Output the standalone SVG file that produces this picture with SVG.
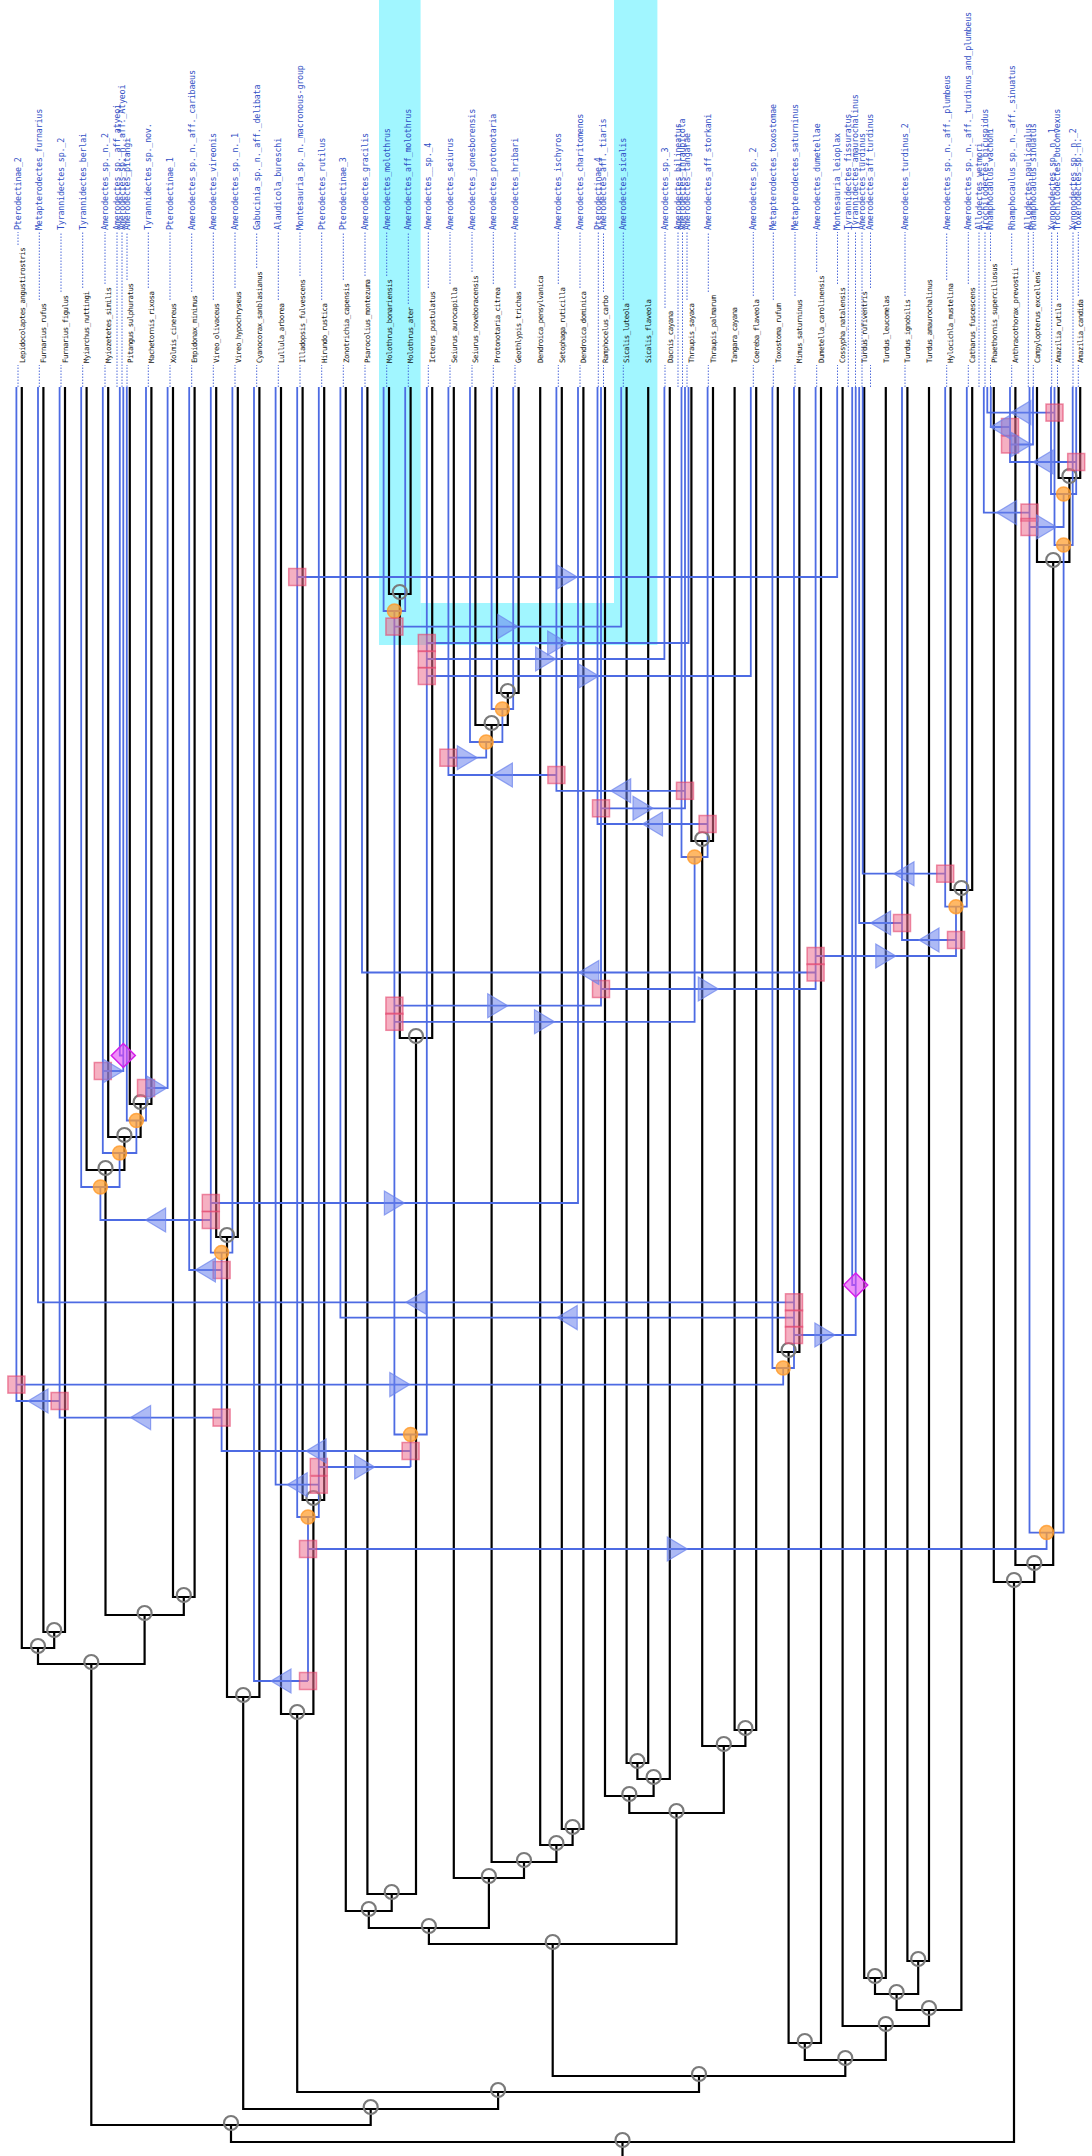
<svg xmlns="http://www.w3.org/2000/svg" xmlns:xlink="http://www.w3.org/1999/xlink" width="1092" height="2156" viewBox="0 0 1092 2156">
<style>
.hl{font-family:"DejaVu Sans Mono","Liberation Mono",monospace;font-size:7.4px;letter-spacing:-0.48px;fill:#111}
.pl{font-family:"DejaVu Sans Mono","Liberation Mono",monospace;font-size:8.4px;letter-spacing:-0.2px;fill:#2f4ec4}
.ld{fill:none;stroke:#3d5bd6;stroke-width:0.9;stroke-dasharray:1.5 1.5}
.h{fill:none;stroke:#000;stroke-width:2.2}
.p{fill:none;stroke:#4d6be3;stroke-width:1.8}
.hc{fill:none;stroke:#7a7a7a;stroke-width:2.2}
.co{fill:#ffa033;fill-opacity:.75;stroke:#ff9a2a;stroke-opacity:.8;stroke-width:1.5}
.sq{fill:#ec6f8f;fill-opacity:.55;stroke:#e2456c;stroke-opacity:.6;stroke-width:1.5}
.tri{fill:#6a82ec;fill-opacity:.55;stroke:#6a82ec;stroke-opacity:.7;stroke-width:1.2}
.dm{fill:#e446f5;fill-opacity:.6;stroke:#d41ee8;stroke-width:1.5}
.cy{fill:#00e6ff;fill-opacity:.37}
</style>
<defs>
<rect id="sq" x="-8.5" y="-8.5" width="17" height="17"/>
<circle id="co" r="7"/>
<circle id="hc" r="7"/>
<path id="tr" d="M-10,-12L10,0L-10,12Z"/>
<path id="tl" d="M10,-12L-10,0L10,12Z"/>
<path id="dm" d="M0,-12L12,0L0,12L-12,0Z"/>
</defs>
<rect width="1092" height="2156" fill="#fff"/>
<g id="highlight">
<rect class="cy" x="379" y="0" width="41.6" height="645"/>
<rect class="cy" x="614" y="0" width="43.4" height="645"/>
<rect class="cy" x="420.6" y="603" width="193.4" height="42"/>
</g>
<g id="labels">
<g id="host-Lepidocolaptes_angustirostris"><text class="hl" transform="translate(24.6,363) rotate(-90)">Lepidocolaptes_angustirostris</text></g>
<g id="para-Pterodectinae_2"><path class="ld" d="M18,387V365M18,245V232"/><text class="pl" transform="translate(20.9,230) rotate(-90)">Pterodectinae_2</text></g>
<g id="host-Furnarius_rufus"><text class="hl" transform="translate(46.2,363) rotate(-90)">Furnarius_rufus</text></g>
<g id="para-Metapterodectes_furnarius"><path class="ld" d="M39.3,387V365M39.3,300V232"/><text class="pl" transform="translate(42.2,230) rotate(-90)">Metapterodectes_furnarius</text></g>
<g id="host-Furnarius_figulus"><text class="hl" transform="translate(67.8,363) rotate(-90)">Furnarius_figulus</text></g>
<g id="para-Tyrannidectes_sp._2"><path class="ld" d="M61,387V365M61,292V232"/><text class="pl" transform="translate(63.9,230) rotate(-90)">Tyrannidectes_sp._2</text></g>
<g id="host-Myiarchus_nuttingi"><text class="hl" transform="translate(89.4,363) rotate(-90)">Myiarchus_nuttingi</text></g>
<g id="para-Tyrannidectes_berlai"><path class="ld" d="M82.7,387V365M82.7,288V232"/><text class="pl" transform="translate(85.6,230) rotate(-90)">Tyrannidectes_berlai</text></g>
<g id="host-Myiozetetes_similis"><text class="hl" transform="translate(111,363) rotate(-90)">Myiozetetes_similis</text></g>
<g id="para-Amerodectes_sp._n._2"><path class="ld" d="M105,387V365M105,284V232"/><text class="pl" transform="translate(107.9,230) rotate(-90)">Amerodectes_sp._n._2</text></g>
<g id="host-Pitangus_sulphuratus"><text class="hl" transform="translate(132.6,363) rotate(-90)">Pitangus_sulphuratus</text></g>
<g id="para-Amerodectes_sp._aff_atyeoi"><path class="ld" d="M117,387V232"/><text class="pl" transform="translate(119.9,230) rotate(-90)">Amerodectes_sp._aff_atyeoi</text></g>
<g id="para-Amerodectes_sp._n._aff._Atyeoi"><path class="ld" d="M122,387V232"/><text class="pl" transform="translate(124.9,230) rotate(-90)">Amerodectes_sp._n._aff._Atyeoi</text></g>
<g id="para-Amerodectes_pitangi"><path class="ld" d="M127,387V365M127,280V232"/><text class="pl" transform="translate(129.9,230) rotate(-90)">Amerodectes_pitangi</text></g>
<g id="host-Machetornis_rixosa"><text class="hl" transform="translate(154.2,363) rotate(-90)">Machetornis_rixosa</text></g>
<g id="para-Tyrannidectes_sp._nov."><path class="ld" d="M148.3,387V365M148.3,288V232"/><text class="pl" transform="translate(151.2,230) rotate(-90)">Tyrannidectes_sp._nov.</text></g>
<g id="host-Xolmis_cinereus"><text class="hl" transform="translate(175.8,363) rotate(-90)">Xolmis_cinereus</text></g>
<g id="para-Pterodectinae_1"><path class="ld" d="M170,387V365M170,300V232"/><text class="pl" transform="translate(172.9,230) rotate(-90)">Pterodectinae_1</text></g>
<g id="host-Empidonax_minimus"><text class="hl" transform="translate(197.4,363) rotate(-90)">Empidonax_minimus</text></g>
<g id="para-Amerodectes_sp._n._aff._caribaeus"><path class="ld" d="M191.7,387V365M191.7,292V232"/><text class="pl" transform="translate(194.6,230) rotate(-90)">Amerodectes_sp._n._aff._caribaeus</text></g>
<g id="host-Vireo_olivaceus"><text class="hl" transform="translate(219,363) rotate(-90)">Vireo_olivaceus</text></g>
<g id="para-Amerodectes_vireonis"><path class="ld" d="M213.3,387V365M213.3,300V232"/><text class="pl" transform="translate(216.2,230) rotate(-90)">Amerodectes_vireonis</text></g>
<g id="host-Vireo_hypochryseus"><text class="hl" transform="translate(240.6,363) rotate(-90)">Vireo_hypochryseus</text></g>
<g id="para-Amerodectes_sp._n._1"><path class="ld" d="M235,387V365M235,288V232"/><text class="pl" transform="translate(237.9,230) rotate(-90)">Amerodectes_sp._n._1</text></g>
<g id="host-Cyanocorax_sanblasianus"><text class="hl" transform="translate(262.2,363) rotate(-90)">Cyanocorax_sanblasianus</text></g>
<g id="para-Gabucinia_sp._n._aff._delibata"><path class="ld" d="M256.7,387V365M256.7,268V232"/><text class="pl" transform="translate(259.6,230) rotate(-90)">Gabucinia_sp._n._aff._delibata</text></g>
<g id="host-Lullula_arborea"><text class="hl" transform="translate(283.8,363) rotate(-90)">Lullula_arborea</text></g>
<g id="para-Alaudicola_bureschi"><path class="ld" d="M278.3,387V365M278.3,300V232"/><text class="pl" transform="translate(281.2,230) rotate(-90)">Alaudicola_bureschi</text></g>
<g id="host-Illadopsis_fulvescens"><text class="hl" transform="translate(305.4,363) rotate(-90)">Illadopsis_fulvescens</text></g>
<g id="para-Montesauria_sp._n._macronous-group"><path class="ld" d="M300,387V365M300,276V232"/><text class="pl" transform="translate(302.9,230) rotate(-90)">Montesauria_sp._n._macronous-group</text></g>
<g id="host-Hirundo_rustica"><text class="hl" transform="translate(327,363) rotate(-90)">Hirundo_rustica</text></g>
<g id="para-Pterodectes_rutilus"><path class="ld" d="M321.7,387V365M321.7,300V232"/><text class="pl" transform="translate(324.6,230) rotate(-90)">Pterodectes_rutilus</text></g>
<g id="host-Zonotrichia_capensis"><text class="hl" transform="translate(348.6,363) rotate(-90)">Zonotrichia_capensis</text></g>
<g id="para-Pterodectinae_3"><path class="ld" d="M343.3,387V365M343.3,280V232"/><text class="pl" transform="translate(346.2,230) rotate(-90)">Pterodectinae_3</text></g>
<g id="host-Psarocolius_montezuma"><text class="hl" transform="translate(370.2,363) rotate(-90)">Psarocolius_montezuma</text></g>
<g id="para-Amerodectes_gracilis"><path class="ld" d="M365,387V365M365,276V232"/><text class="pl" transform="translate(367.9,230) rotate(-90)">Amerodectes_gracilis</text></g>
<g id="host-Molothrus_bonariensis"><text class="hl" transform="translate(391.8,363) rotate(-90)">Molothrus_bonariensis</text></g>
<g id="para-Amerodectes_molothrus"><path class="ld" d="M386.7,387V365M386.7,276V232"/><text class="pl" transform="translate(389.6,230) rotate(-90)">Amerodectes_molothrus</text></g>
<g id="host-Molothrus_ater"><text class="hl" transform="translate(413.4,363) rotate(-90)">Molothrus_ater</text></g>
<g id="para-Amerodectes_aff_molothrus"><path class="ld" d="M408.3,387V365M408.3,304V232"/><text class="pl" transform="translate(411.2,230) rotate(-90)">Amerodectes_aff_molothrus</text></g>
<g id="host-Icterus_pustulatus"><text class="hl" transform="translate(435,363) rotate(-90)">Icterus_pustulatus</text></g>
<g id="para-Amerodectes__sp._4"><path class="ld" d="M428.3,387V365M428.3,288V232"/><text class="pl" transform="translate(431.2,230) rotate(-90)">Amerodectes__sp._4</text></g>
<g id="host-Seiurus_aurocapilla"><text class="hl" transform="translate(456.6,363) rotate(-90)">Seiurus_aurocapilla</text></g>
<g id="para-Amerodectes_seiurus"><path class="ld" d="M450,387V365M450,284V232"/><text class="pl" transform="translate(452.9,230) rotate(-90)">Amerodectes_seiurus</text></g>
<g id="host-Seiurus_noveboracensis"><text class="hl" transform="translate(478.2,363) rotate(-90)">Seiurus_noveboracensis</text></g>
<g id="para-Amerodectes_jonesborensis"><path class="ld" d="M472,387V365M472,272V232"/><text class="pl" transform="translate(474.9,230) rotate(-90)">Amerodectes_jonesborensis</text></g>
<g id="host-Protonotaria_citrea"><text class="hl" transform="translate(499.8,363) rotate(-90)">Protonotaria_citrea</text></g>
<g id="para-Amerodectes_protonotaria"><path class="ld" d="M493.3,387V365M493.3,284V232"/><text class="pl" transform="translate(496.2,230) rotate(-90)">Amerodectes_protonotaria</text></g>
<g id="host-Geothlypis_trichas"><text class="hl" transform="translate(521.4,363) rotate(-90)">Geothlypis_trichas</text></g>
<g id="para-Amerodectes_hribari"><path class="ld" d="M515,387V365M515,288V232"/><text class="pl" transform="translate(517.9,230) rotate(-90)">Amerodectes_hribari</text></g>
<g id="host-Dendroica_pensylvanica"><text class="hl" transform="translate(543,363) rotate(-90)">Dendroica_pensylvanica</text></g>
<g id="host-Setophaga_ruticilla"><text class="hl" transform="translate(564.6,363) rotate(-90)">Setophaga_ruticilla</text></g>
<g id="para-Amerodectes_ischyros"><path class="ld" d="M558.3,387V365M558.3,284V232"/><text class="pl" transform="translate(561.2,230) rotate(-90)">Amerodectes_ischyros</text></g>
<g id="host-Dendroica_dominica"><text class="hl" transform="translate(586.2,363) rotate(-90)">Dendroica_dominica</text></g>
<g id="para-Amerodectes_charitomenos"><path class="ld" d="M580,387V365M580,288V232"/><text class="pl" transform="translate(582.9,230) rotate(-90)">Amerodectes_charitomenos</text></g>
<g id="host-Ramphocelus_carbo"><text class="hl" transform="translate(607.8,363) rotate(-90)">Ramphocelus_carbo</text></g>
<g id="para-Pterodectinae_4"><path class="ld" d="M598.3,387V232"/><text class="pl" transform="translate(601.2,230) rotate(-90)">Pterodectinae_4</text></g>
<g id="para-Amerodectes_aff._tiaris"><path class="ld" d="M603.5,387V365M603.5,292V232"/><text class="pl" transform="translate(606.4,230) rotate(-90)">Amerodectes_aff._tiaris</text></g>
<g id="host-Sicalis_luteola"><text class="hl" transform="translate(629.4,363) rotate(-90)">Sicalis_luteola</text></g>
<g id="para-Amerodectes_sicalis"><path class="ld" d="M623.3,387V365M623.3,300V232"/><text class="pl" transform="translate(626.2,230) rotate(-90)">Amerodectes_sicalis</text></g>
<g id="host-Sicalis_flaveola"><text class="hl" transform="translate(651,363) rotate(-90)">Sicalis_flaveola</text></g>
<g id="host-Dacnis_cayana"><text class="hl" transform="translate(672.6,363) rotate(-90)">Dacnis_cayana</text></g>
<g id="para-Amerodectes_sp._3"><path class="ld" d="M665,387V365M665,308V232"/><text class="pl" transform="translate(667.9,230) rotate(-90)">Amerodectes_sp._3</text></g>
<g id="host-Thraupis_sayaca"><text class="hl" transform="translate(694.2,363) rotate(-90)">Thraupis_sayaca</text></g>
<g id="para-Amerodectes_bilineatus"><path class="ld" d="M678,387V232"/><text class="pl" transform="translate(680.9,230) rotate(-90)">Amerodectes_bilineatus</text></g>
<g id="para-Amerodectes_thraupicola"><path class="ld" d="M682.5,387V232"/><text class="pl" transform="translate(685.4,230) rotate(-90)">Amerodectes_thraupicola</text></g>
<g id="para-Amerodectes_tangarae"><path class="ld" d="M687,387V365M687,300V232"/><text class="pl" transform="translate(689.9,230) rotate(-90)">Amerodectes_tangarae</text></g>
<g id="host-Thraupis_palmarum"><text class="hl" transform="translate(715.8,363) rotate(-90)">Thraupis_palmarum</text></g>
<g id="para-Amerodectes_aff_storkani"><path class="ld" d="M708.3,387V365M708.3,292V232"/><text class="pl" transform="translate(711.2,230) rotate(-90)">Amerodectes_aff_storkani</text></g>
<g id="host-Tangara_cayana"><text class="hl" transform="translate(737.4,363) rotate(-90)">Tangara_cayana</text></g>
<g id="host-Coereba_flaveola"><text class="hl" transform="translate(759,363) rotate(-90)">Coereba_flaveola</text></g>
<g id="para-Amerodectes_sp._2"><path class="ld" d="M753.3,387V365M753.3,296V232"/><text class="pl" transform="translate(756.2,230) rotate(-90)">Amerodectes_sp._2</text></g>
<g id="host-Toxostoma_rufum"><text class="hl" transform="translate(780.6,363) rotate(-90)">Toxostoma_rufum</text></g>
<g id="para-Metapterodectes_toxostomae"><path class="ld" d="M773.3,387V365M773.3,300V232"/><text class="pl" transform="translate(776.2,230) rotate(-90)">Metapterodectes_toxostomae</text></g>
<g id="host-Mimus_saturninus"><text class="hl" transform="translate(802.2,363) rotate(-90)">Mimus_saturninus</text></g>
<g id="para-Metapterodectes_saturninus"><path class="ld" d="M795,387V365M795,296V232"/><text class="pl" transform="translate(797.9,230) rotate(-90)">Metapterodectes_saturninus</text></g>
<g id="host-Dumetella_carolinensis"><text class="hl" transform="translate(823.8,363) rotate(-90)">Dumetella_carolinensis</text></g>
<g id="para-Amerodectes_dumetellae"><path class="ld" d="M816.7,387V365M816.7,272V232"/><text class="pl" transform="translate(819.6,230) rotate(-90)">Amerodectes_dumetellae</text></g>
<g id="host-Cossypha_natalensis"><text class="hl" transform="translate(845.4,363) rotate(-90)">Cossypha_natalensis</text></g>
<g id="para-Montesauria_leioplax"><path class="ld" d="M837.5,387V365M837.5,284V232"/><text class="pl" transform="translate(840.4,230) rotate(-90)">Montesauria_leioplax</text></g>
<g id="host-Turdus_rufiventris"><text class="hl" transform="translate(867,363) rotate(-90)">Turdus_rufiventris</text></g>
<g id="para-Tyrannidectes_fissuratus"><path class="ld" d="M848.3,387V232"/><text class="pl" transform="translate(851.2,230) rotate(-90)">Tyrannidectes_fissuratus</text></g>
<g id="para-Tyrannidectes_amaurochalinus"><path class="ld" d="M855.5,387V232"/><text class="pl" transform="translate(858.4,230) rotate(-90)">Tyrannidectes_amaurochalinus</text></g>
<g id="para-Amerodectes_turdinus"><path class="ld" d="M862,387V232"/><text class="pl" transform="translate(864.9,230) rotate(-90)">Amerodectes_turdinus</text></g>
<g id="para-Amerodectes_aff_turdinus"><path class="ld" d="M870.5,387V365M870.5,288V232"/><text class="pl" transform="translate(873.4,230) rotate(-90)">Amerodectes_aff_turdinus</text></g>
<g id="host-Turdus_leucomelas"><text class="hl" transform="translate(888.6,363) rotate(-90)">Turdus_leucomelas</text></g>
<g id="host-Turdus_ignobilis"><text class="hl" transform="translate(910.2,363) rotate(-90)">Turdus_ignobilis</text></g>
<g id="para-Amerodectes_turdinus_2"><path class="ld" d="M905,387V365M905,296V232"/><text class="pl" transform="translate(907.9,230) rotate(-90)">Amerodectes_turdinus_2</text></g>
<g id="host-Turdus_amaurochalinus"><text class="hl" transform="translate(931.8,363) rotate(-90)">Turdus_amaurochalinus</text></g>
<g id="host-Hylocichla_mustelina"><text class="hl" transform="translate(953.4,363) rotate(-90)">Hylocichla_mustelina</text></g>
<g id="para-Amerodectes_sp._n._aff._plumbeus"><path class="ld" d="M946.7,387V365M946.7,280V232"/><text class="pl" transform="translate(949.6,230) rotate(-90)">Amerodectes_sp._n._aff._plumbeus</text></g>
<g id="host-Catharus_fuscescens"><text class="hl" transform="translate(975,363) rotate(-90)">Catharus_fuscescens</text></g>
<g id="para-Amerodectes_sp._n._aff._turdinus_and_plumbeus"><path class="ld" d="M968.3,387V365M968.3,284V232"/><text class="pl" transform="translate(971.2,230) rotate(-90)">Amerodectes_sp._n._aff._turdinus_and_plumbeus</text></g>
<g id="host-Phaethornis_superciliosus"><text class="hl" transform="translate(996.6,363) rotate(-90)">Phaethornis_superciliosus</text></g>
<g id="para-Allodectes_wetmori"><path class="ld" d="M979,387V232"/><text class="pl" transform="translate(981.9,230) rotate(-90)">Allodectes_wetmori</text></g>
<g id="para-Trochilodectes_bicuspidus"><path class="ld" d="M985,387V232"/><text class="pl" transform="translate(987.9,230) rotate(-90)">Trochilodectes_bicuspidus</text></g>
<g id="para-Rhamphocaulus_vachoni"><path class="ld" d="M990.5,387V365M990.5,261V232"/><text class="pl" transform="translate(993.4,230) rotate(-90)">Rhamphocaulus_vachoni</text></g>
<g id="host-Anthracothorax_prevostii"><text class="hl" transform="translate(1018.2,363) rotate(-90)">Anthracothorax_prevostii</text></g>
<g id="para-Rhamphocaulus_sp._n._aff._sinuatus"><path class="ld" d="M1011.7,387V365M1011.7,265V232"/><text class="pl" transform="translate(1014.6,230) rotate(-90)">Rhamphocaulus_sp._n._aff._sinuatus</text></g>
<g id="host-Campylopterus_excellens"><text class="hl" transform="translate(1039.8,363) rotate(-90)">Campylopterus_excellens</text></g>
<g id="para-Allodectes_paulicaulus"><path class="ld" d="M1028.3,387V232"/><text class="pl" transform="translate(1031.2,230) rotate(-90)">Allodectes_paulicaulus</text></g>
<g id="para-Rhamphocaulus_sinuatus"><path class="ld" d="M1033.3,387V365M1033.3,272V232"/><text class="pl" transform="translate(1036.2,230) rotate(-90)">Rhamphocaulus_sinuatus</text></g>
<g id="host-Amazilia_rutila"><text class="hl" transform="translate(1061.4,363) rotate(-90)">Amazilia_rutila</text></g>
<g id="para-Xynonodectes_sp._n._1"><path class="ld" d="M1051.7,387V232"/><text class="pl" transform="translate(1054.6,230) rotate(-90)">Xynonodectes_sp._n._1</text></g>
<g id="para-Trochilodectes_buconvexus"><path class="ld" d="M1057.5,387V365M1057.5,300V232"/><text class="pl" transform="translate(1060.4,230) rotate(-90)">Trochilodectes_buconvexus</text></g>
<g id="host-Amazilia_candida"><text class="hl" transform="translate(1083,363) rotate(-90)">Amazilia_candida</text></g>
<g id="para-Xynonodectes_sp._n._2"><path class="ld" d="M1073,387V232"/><text class="pl" transform="translate(1075.9,230) rotate(-90)">Xynonodectes_sp._n._2</text></g>
<g id="para-Toxerodectes_sp._n."><path class="ld" d="M1078.3,387V365M1078.3,296V232"/><text class="pl" transform="translate(1081.2,230) rotate(-90)">Toxerodectes_sp._n.</text></g>
</g>
<g id="connectors">
<g id="host-tree">
<path class="h" d="M43.4,387V1632H65V387M21.8,387V1648H54.2V1632M129.8,387V1104H151.4V387M108.2,387V1137H140.6V1104M86.6,387V1170H124.4V1137M173,387V1597H194.6V387M105.5,1170V1615H183.8V1597M38,1648V1664H144.6V1615M216.2,387V1237H237.8V387M227,1237V1697H259.4V387M302.6,387V1500H324.2V387M281,387V1714H313.4V1500M389,387V594H410.6V387M399.8,594V1038H432.2V387M367.4,387V1894H416V1038M345.8,387V1911H391.7V1894M497,387V693H518.6V387M475.4,387V725H507.8V693M561.8,387V1829H583.4V387M540.2,387V1845H572.6V1829M491.6,725V1862H556.4V1845M453.8,387V1878H524V1862M368.8,1911V1928H488.9V1878M626.6,387V1763H648.2V387M637.4,1763V1779H669.8V387M605,387V1796H653.6V1779M691.4,387V841H713V387M734.6,387V1730H756.2V387M702.2,841V1746H745.4V1730M629.3,1796V1813H723.8V1746M428.9,1928V1944H676.5V1813M777.8,387V1352H799.4V387M788.6,1352V2043H821V387M864.2,387V1978H885.8V387M907.4,387V1961H929V387M875,1978V1994H918.2V1961M950.6,387V890H972.2V387M896.6,1994V2010H961.4V890M842.6,387V2026H929V2010M804.8,2043V2060H885.8V2026M552.7,1944V2076H845.3V2060M297.2,1714V2092H699V2076M243.2,1697V2109H498.1V2092M91.3,1664V2125H370.7V2109M1058.6,387V478H1080.2V387M1037,387V562H1069.4V478M1015.4,387V1565H1053.2V562M993.8,387V1582H1034.3V1565M231,2125V2142H1014V1582M622.5,2142V2156"/>
</g>
<g id="parasite-tree">
<path class="p" d="M16.4,387V1401H59.6M16.4,1384.6H783.2V1368M38,387V1302.3H794M59.6,387V1417.6H221.6M81.2,387V1187H119.6V1153M102.8,387V1153H136.4V1120.5M100.4,1187V1220H210.8M119.8,387V1055.5H123.3M123.3,387V1071H102.8M126.8,387V1120.5H146V387M146,1088H167.6V387M189.2,387V1270H221.6M210.8,387V1252.6H232.4V387M221.6,1252.6V1451H410.6M210.8,1203H578V387M254,387V1681H308M275.6,387V1484.7H318.8M297.2,387V1517H318.8V387M297.2,577H837.2V387M308,1517V1681M308,1549H1046.6V1532.6M318.8,1467H410.6M340.4,387V1317.6H794M362,387V972.5H815.6M383.6,387V611H405.2V387M394.4,611V1434.5H426.8V387M410.6,1434.5V1467M394.4,626.6H621.2V387M394.4,1005.7H601V387M394.4,1021.8H694.6V857M426.8,643H688.5V387M426.8,659H664.4V387M426.8,676H750.8V387M448.4,387V775H556.4M448.4,757.7H486.2V742M470,387V742H502.4V709M491.6,387V709H513.2V387M556.4,387V790.8H685M597.5,387V824H707.6M601,808.3H685V387M601,989H815.6V387M681.5,387V857H707.6V387M772.4,387V1368H794V387M794,1335H855.7V1285M852.2,387V1285H855.7V387M859.2,387V923H902M862.7,387V873.7H945.2M902,387V940H956M945.2,387V906.7H966.8V387M815.6,956H956V906.7M983.8,387V512.6H1029.5M987.3,387V412.6H1054.5M990.8,387V427H1010M1010,387V462H1076.2M1033,387V444.5H1010M1029.5,387V1532.6H1063.6V545M1029.5,527H1063.6V494M1051,387V494H1076.2V387M1054.5,387V545H1072.7V387"/>
</g>
</g>
<g id="host-nodes">
<use href="#hc" class="hc" x="54.2" y="1630"/><use href="#hc" class="hc" x="38" y="1646"/><use href="#hc" class="hc" x="140.6" y="1102"/><use href="#hc" class="hc" x="124.4" y="1135"/><use href="#hc" class="hc" x="105.5" y="1168"/><use href="#hc" class="hc" x="183.8" y="1595"/><use href="#hc" class="hc" x="144.6" y="1613"/><use href="#hc" class="hc" x="91.3" y="1662"/><use href="#hc" class="hc" x="227" y="1235"/><use href="#hc" class="hc" x="243.2" y="1695"/><use href="#hc" class="hc" x="313.4" y="1498"/><use href="#hc" class="hc" x="297.2" y="1712"/><use href="#hc" class="hc" x="399.8" y="592"/><use href="#hc" class="hc" x="416" y="1036"/><use href="#hc" class="hc" x="391.7" y="1892"/><use href="#hc" class="hc" x="368.8" y="1909"/><use href="#hc" class="hc" x="507.8" y="691"/><use href="#hc" class="hc" x="491.6" y="723"/><use href="#hc" class="hc" x="572.6" y="1827"/><use href="#hc" class="hc" x="556.4" y="1843"/><use href="#hc" class="hc" x="524" y="1860"/><use href="#hc" class="hc" x="488.9" y="1876"/><use href="#hc" class="hc" x="428.9" y="1926"/><use href="#hc" class="hc" x="637.4" y="1761"/><use href="#hc" class="hc" x="653.6" y="1777"/><use href="#hc" class="hc" x="629.3" y="1794"/><use href="#hc" class="hc" x="702.2" y="839"/><use href="#hc" class="hc" x="745.4" y="1728"/><use href="#hc" class="hc" x="723.8" y="1744"/><use href="#hc" class="hc" x="676.5" y="1811"/><use href="#hc" class="hc" x="552.7" y="1942"/><use href="#hc" class="hc" x="788.6" y="1350"/><use href="#hc" class="hc" x="804.8" y="2041"/><use href="#hc" class="hc" x="875" y="1976"/><use href="#hc" class="hc" x="918.2" y="1959"/><use href="#hc" class="hc" x="896.6" y="1992"/><use href="#hc" class="hc" x="961.4" y="888"/><use href="#hc" class="hc" x="929" y="2008"/><use href="#hc" class="hc" x="885.8" y="2024"/><use href="#hc" class="hc" x="845.3" y="2058"/><use href="#hc" class="hc" x="699" y="2074"/><use href="#hc" class="hc" x="498.1" y="2090"/><use href="#hc" class="hc" x="370.7" y="2107"/><use href="#hc" class="hc" x="231" y="2123"/><use href="#hc" class="hc" x="1069.4" y="476"/><use href="#hc" class="hc" x="1053.2" y="560"/><use href="#hc" class="hc" x="1034.3" y="1563"/><use href="#hc" class="hc" x="1014" y="1580"/><use href="#hc" class="hc" x="622.5" y="2140"/>
</g>
<g id="events">
<g id="cospeciations">
<use href="#co" class="co" x="100.4" y="1187"/><use href="#co" class="co" x="119.6" y="1153"/><use href="#co" class="co" x="136.4" y="1120.5"/><use href="#co" class="co" x="221.6" y="1252.6"/><use href="#co" class="co" x="308" y="1517"/><use href="#co" class="co" x="394.4" y="611"/><use href="#co" class="co" x="410.6" y="1434.5"/><use href="#co" class="co" x="486.2" y="742"/><use href="#co" class="co" x="502.4" y="709"/><use href="#co" class="co" x="694.6" y="857"/><use href="#co" class="co" x="783.2" y="1368"/><use href="#co" class="co" x="956" y="906.7"/><use href="#co" class="co" x="1063.6" y="494"/><use href="#co" class="co" x="1063.6" y="545"/><use href="#co" class="co" x="1046.6" y="1532.6"/>
</g>
<g id="duplications">
<use href="#sq" class="sq" x="297.2" y="577"/><use href="#sq" class="sq" x="394.4" y="626.6"/><use href="#sq" class="sq" x="426.8" y="643"/><use href="#sq" class="sq" x="426.8" y="659.5"/><use href="#sq" class="sq" x="426.8" y="676"/><use href="#sq" class="sq" x="448.4" y="757.7"/><use href="#sq" class="sq" x="556.4" y="775"/><use href="#sq" class="sq" x="685" y="790.8"/><use href="#sq" class="sq" x="601" y="808.3"/><use href="#sq" class="sq" x="707.6" y="824"/><use href="#sq" class="sq" x="945.2" y="873.7"/><use href="#sq" class="sq" x="902" y="923"/><use href="#sq" class="sq" x="956" y="940"/><use href="#sq" class="sq" x="815.6" y="956"/><use href="#sq" class="sq" x="815.6" y="972.5"/><use href="#sq" class="sq" x="601" y="989"/><use href="#sq" class="sq" x="394.4" y="1005.7"/><use href="#sq" class="sq" x="394.4" y="1021.8"/><use href="#sq" class="sq" x="102.8" y="1071"/><use href="#sq" class="sq" x="146" y="1088"/><use href="#sq" class="sq" x="210.8" y="1203"/><use href="#sq" class="sq" x="210.8" y="1220"/><use href="#sq" class="sq" x="221.6" y="1270"/><use href="#sq" class="sq" x="794" y="1302.3"/><use href="#sq" class="sq" x="794" y="1318.6"/><use href="#sq" class="sq" x="794" y="1335"/><use href="#sq" class="sq" x="16.4" y="1384.6"/><use href="#sq" class="sq" x="59.6" y="1401"/><use href="#sq" class="sq" x="221.6" y="1417.6"/><use href="#sq" class="sq" x="410.6" y="1451"/><use href="#sq" class="sq" x="318.8" y="1467"/><use href="#sq" class="sq" x="318.8" y="1484.7"/><use href="#sq" class="sq" x="308" y="1549"/><use href="#sq" class="sq" x="308" y="1681"/><use href="#sq" class="sq" x="1054.5" y="412.6"/><use href="#sq" class="sq" x="1010" y="427"/><use href="#sq" class="sq" x="1010" y="444.5"/><use href="#sq" class="sq" x="1076.2" y="462"/><use href="#sq" class="sq" x="1029.5" y="512.6"/><use href="#sq" class="sq" x="1029.5" y="527"/>
</g>
<g id="host-switches">
<use href="#tr" class="tri" x="567.2" y="577"/><use href="#tr" class="tri" x="507.8" y="626.6"/><use href="#tr" class="tri" x="557.7" y="643"/><use href="#tr" class="tri" x="545.6" y="659"/><use href="#tr" class="tri" x="588.8" y="676"/><use href="#tr" class="tri" x="467.3" y="757.7"/><use href="#tl" class="tri" x="502.4" y="775"/><use href="#tl" class="tri" x="620.7" y="790.8"/><use href="#tr" class="tri" x="643" y="808.3"/><use href="#tl" class="tri" x="652.5" y="824"/><use href="#tl" class="tri" x="904" y="873.7"/><use href="#tl" class="tri" x="880.6" y="923"/><use href="#tl" class="tri" x="929" y="940"/><use href="#tr" class="tri" x="885.8" y="956"/><use href="#tl" class="tri" x="588.8" y="972.5"/><use href="#tr" class="tri" x="708.3" y="989"/><use href="#tr" class="tri" x="497.7" y="1005.7"/><use href="#tr" class="tri" x="544.5" y="1021.8"/><use href="#tr" class="tri" x="113" y="1071"/><use href="#tr" class="tri" x="156.8" y="1088"/><use href="#tr" class="tri" x="394.4" y="1203"/><use href="#tl" class="tri" x="155.6" y="1220"/><use href="#tl" class="tri" x="205.4" y="1270"/><use href="#tl" class="tri" x="416" y="1302.3"/><use href="#tl" class="tri" x="567.2" y="1317.6"/><use href="#tr" class="tri" x="824.9" y="1335"/><use href="#tr" class="tri" x="399.8" y="1384.6"/><use href="#tl" class="tri" x="38" y="1401"/><use href="#tl" class="tri" x="140.6" y="1417.6"/><use href="#tl" class="tri" x="316.1" y="1451"/><use href="#tr" class="tri" x="364.7" y="1467"/><use href="#tl" class="tri" x="297.2" y="1484.7"/><use href="#tr" class="tri" x="677.3" y="1549"/><use href="#tl" class="tri" x="281" y="1681"/><use href="#tl" class="tri" x="1020.9" y="412.6"/><use href="#tl" class="tri" x="1000.4" y="427"/><use href="#tr" class="tri" x="1021.5" y="444.5"/><use href="#tl" class="tri" x="1043.1" y="462"/><use href="#tl" class="tri" x="1006.6" y="512.6"/><use href="#tr" class="tri" x="1046.6" y="527"/>
</g>
<g id="losses">
<use href="#dm" class="dm" x="123.3" y="1055.5"/><use href="#dm" class="dm" x="855.7" y="1285"/>
</g>
</g>
</svg>
